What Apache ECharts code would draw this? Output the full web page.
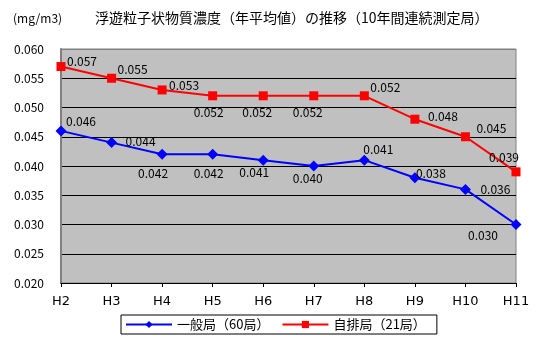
<!DOCTYPE html>
<html>
<head>
<meta charset="utf-8">
<script src="https://cdn.jsdelivr.net/npm/echarts@6/dist/echarts.min.js"></script>
<style>
html,body{margin:0;padding:0;background:#fff;}
#c{width:544px;height:350px;}
</style>
</head>
<body>
<div id="c"></div>
<script>
var categories = ['H2','H3','H4','H5','H6','H7','H8','H9','H10','H11'];
var ippanName = '一般局（60局）';
var jihaiName = '自排局（21局）';
var ippanValues = [0.046,0.044,0.042,0.042,0.041,0.040,0.041,0.038,0.036,0.030];
var jihaiValues = [0.057,0.055,0.053,0.052,0.052,0.052,0.052,0.048,0.045,0.039];
var yMin = 0.020, yMax = 0.060, yStep = 0.005;

// label placement (layout only)
var ippanOffsets = [[20,-9],[29,-1],[-9,19],[-4,19],[-9,12],[-6,12],[14,-11],[16,-4],[30,0],[-33,11]];
var jihaiOffsets = [[21,-5],[21,-9],[22,-5],[-4,17],[-6,17],[-6,17],[21,-8],[28,-3],[26,-8],[-12,-14]];

var FONT = '"Noto Sans CJK JP", sans-serif';

function withLabels(vals, offs){
  return vals.map(function(v,i){
    return {value:v, label:{show:true, position:'inside', offset:offs[i], align:'center', verticalAlign:'middle',
      formatter:function(p){return p.value.toFixed(3);}, color:'#000', fontSize:12, fontFamily:FONT}};
  });
}

var chart = echarts.init(document.getElementById('c'), null, {renderer:'canvas'});
chart.setOption({
  animation:false,
  backgroundColor:'#fff',
  textStyle:{fontFamily:FONT},
  title:[
    {text:'(mg/m3)', left:8, top:7, textStyle:{fontSize:12, fontWeight:'normal', color:'#000', fontFamily:FONT}},
    {text:'浮遊粒子状物質濃度（年平均値）の推移（10年間連続測定局）', left:90, top:6, textStyle:{fontSize:14, fontWeight:'normal', color:'#000', fontFamily:FONT}}
  ],
  grid:{left:61, right:28, top:49, bottom:67, show:true, backgroundColor:'#c0c0c0', borderColor:'#808080', borderWidth:1},
  legend:{
    bottom:16, left:121,
    itemWidth:46, itemHeight:9, itemGap:12,
    padding:[3,11,3,4],
    borderColor:'#000', borderWidth:1, backgroundColor:'#fff',
    textStyle:{fontSize:13, color:'#000', fontFamily:FONT},
    data:[ippanName, jihaiName]
  },
  xAxis:{
    type:'category', data:categories, boundaryGap:false,
    axisLine:{lineStyle:{color:'#000', width:1}},
    axisTick:{show:true, length:4, lineStyle:{color:'#000'}},
    axisLabel:{color:'#000', fontSize:13, margin:12, fontFamily:'"DejaVu Sans", sans-serif'},
    splitLine:{show:false}
  },
  yAxis:{
    type:'value', min:yMin, max:yMax, interval:yStep,
    axisLine:{show:true, lineStyle:{color:'#808080', width:2}},
    axisTick:{show:false},
    axisLabel:{color:'#000', fontSize:12, margin:17, fontFamily:FONT, formatter:function(v){return v.toFixed(3);}},
    splitLine:{show:true, lineStyle:{color:['#000','#000','#000','#000','#000','#000','#000','#000','#808080'], width:1}}
  },
  series:[
    {name:ippanName, type:'line', data:withLabels(ippanValues, ippanOffsets),
     symbol:'diamond', symbolSize:11, lineStyle:{color:'#0000ff', width:2}, itemStyle:{color:'#0000ff'}},
    {name:jihaiName, type:'line', data:withLabels(jihaiValues, jihaiOffsets),
     symbol:'rect', symbolSize:9, lineStyle:{color:'#ff0000', width:2}, itemStyle:{color:'#ff0000'}}
  ]
});
</script>
</body>
</html>
